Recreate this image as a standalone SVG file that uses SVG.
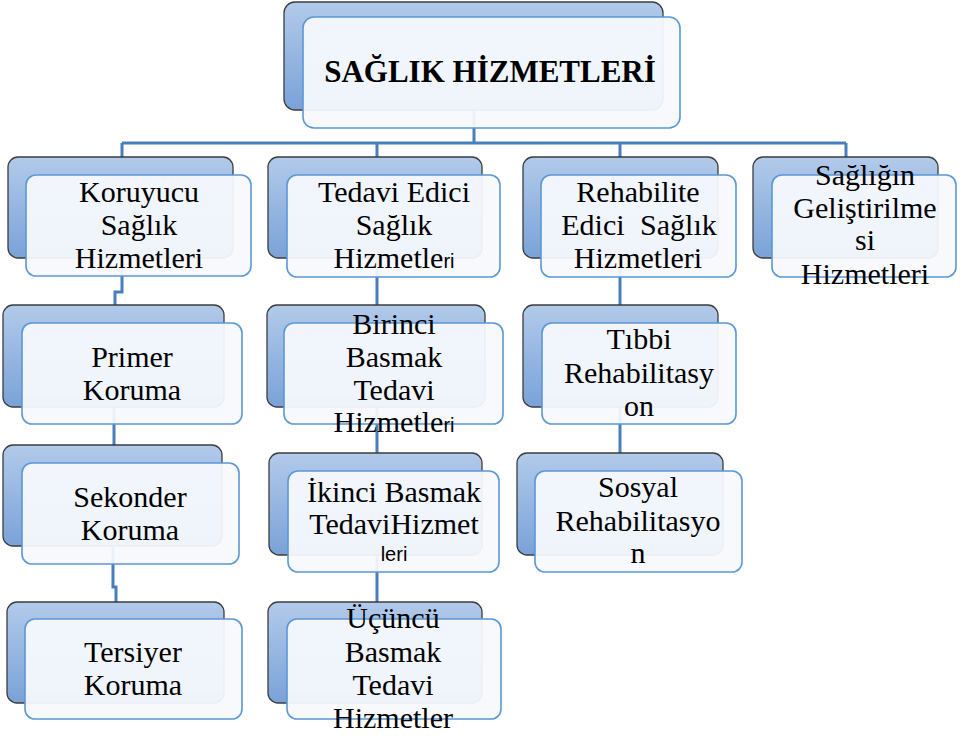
<svg xmlns="http://www.w3.org/2000/svg" width="971" height="738" viewBox="0 0 971 738">
<style>
.back{fill:url(#bg);stroke:#3d3d3d;stroke-width:1.3}
.front{fill:#f6f9fd;fill-opacity:0.94;stroke:#5a98d6;stroke-width:1.6}
.t{font-family:"Liberation Serif",serif;font-size:30px;fill:#000;text-anchor:middle}
.ttl{font-family:"Liberation Serif",serif;font-size:31px;font-weight:bold;fill:#000;text-anchor:middle}
.s{font-family:"Liberation Sans",sans-serif;font-size:20px}
.c{fill:none;stroke:#4a7fbd;stroke-width:3}
</style>
<defs>
<linearGradient id="bg" x1="0" y1="0" x2="0" y2="1">
<stop offset="0" stop-color="#b2caea"/>
<stop offset="1" stop-color="#7aa2d8"/>
</linearGradient>
</defs>
<rect width="971" height="738" fill="#fff"/>
<g id="connectors">
<path class="c" d="M474 110 V143 M122 143 H846 M122 143 V157 M377 143 V157 M620 143 V157 M846 143 V157"/>
<path class="c" d="M122 258 V292 H115 V305 M114 407 V445 M113 546 V587 H116 V602"/>
<path class="c" d="M377 258 V305 M377 407 V453 M377 555 V602"/>
<path class="c" d="M620 258 V305 M620 407 V453"/>
</g>
<g id="n-root">
<rect class="back" x="284" y="2" width="379" height="108" rx="11"/>
<rect class="front" x="303" y="17" width="377" height="111" rx="11"/>
<text class="ttl" x="490" y="82">SAĞLIK HİZMETLERİ</text>
</g>
<g id="n-koruyucu">
<rect class="back" x="8" y="157" width="225" height="101" rx="10"/>
<rect class="front" x="26" y="175" width="225" height="101" rx="10"/>
<text class="t" x="139" y="202">Koruyucu</text>
<text class="t" x="139" y="235">Sağlık</text>
<text class="t" x="139" y="268">Hizmetleri</text>
</g>
<g id="n-primer">
<rect class="back" x="3" y="305" width="221" height="102" rx="10"/>
<rect class="front" x="22" y="323" width="220" height="101" rx="10"/>
<text class="t" x="132" y="367">Primer</text>
<text class="t" x="132" y="400">Koruma</text>
</g>
<g id="n-sekonder">
<rect class="back" x="3" y="445" width="219" height="101" rx="10"/>
<rect class="front" x="22" y="463" width="217" height="101" rx="10"/>
<text class="t" x="130" y="507">Sekonder</text>
<text class="t" x="130" y="540">Koruma</text>
</g>
<g id="n-tersiyer">
<rect class="back" x="7" y="602" width="217" height="101" rx="10"/>
<rect class="front" x="25" y="619" width="217" height="100" rx="10"/>
<text class="t" x="133" y="662">Tersiyer</text>
<text class="t" x="133" y="695">Koruma</text>
</g>
<g id="n-tedavi">
<rect class="back" x="268" y="157" width="214" height="101" rx="10"/>
<rect class="front" x="287" y="175" width="213" height="102" rx="10"/>
<text class="t" x="394" y="202">Tedavi Edici</text>
<text class="t" x="394" y="235">Sağlık</text>
<text class="t" x="394" y="268">Hizmetle<tspan class="s">ri</tspan></text>
</g>
<g id="n-birinci">
<rect class="back" x="267" y="305" width="218" height="102" rx="10"/>
<rect class="front" x="284" y="323" width="219" height="101" rx="10"/>
<text class="t" x="394" y="334">Birinci</text>
<text class="t" x="394" y="367">Basmak</text>
<text class="t" x="394" y="400">Tedavi</text>
<text class="t" x="394" y="432">Hizmetle<tspan class="s">ri</tspan></text>
</g>
<g id="n-ikinci">
<rect class="back" x="269" y="453" width="213" height="102" rx="10"/>
<rect class="front" x="288" y="471" width="211" height="101" rx="10"/>
<text class="t" x="394" y="502">İkinci Basmak</text>
<text class="t" x="394" y="534">TedaviHizmet</text>
<text class="t s" x="394" y="561">leri</text>
</g>
<g id="n-ucuncu">
<rect class="back" x="268" y="602" width="214" height="101" rx="10"/>
<rect class="front" x="287" y="619" width="214" height="100" rx="10"/>
<text class="t" x="393" y="628">Üçüncü</text>
<text class="t" x="393" y="662">Basmak</text>
<text class="t" x="393" y="695">Tedavi</text>
<text class="t" x="393" y="728">Hizmetler</text>
</g>
<g id="n-rehabilite">
<rect class="back" x="523" y="157" width="195" height="101" rx="10"/>
<rect class="front" x="541" y="175" width="195" height="102" rx="10"/>
<text class="t" x="638" y="202">Rehabilite</text>
<text class="t" x="639" y="235" word-spacing="8">Edici Sağlık</text>
<text class="t" x="638" y="268">Hizmetleri</text>
</g>
<g id="n-tibbi">
<rect class="back" x="523" y="305" width="195" height="102" rx="10"/>
<rect class="front" x="542" y="323" width="194" height="101" rx="10"/>
<text class="t" x="639" y="349">Tıbbi</text>
<text class="t" x="639" y="383">Rehabilitasy</text>
<text class="t" x="639" y="416">on</text>
</g>
<g id="n-sosyal">
<rect class="back" x="517" y="453" width="206" height="102" rx="10"/>
<rect class="front" x="535" y="471" width="207" height="101" rx="10"/>
<text class="t" x="638" y="497">Sosyal</text>
<text class="t" x="638" y="531">Rehabilitasyo</text>
<text class="t" x="638" y="563">n</text>
</g>
<g id="n-gelistirilme">
<rect class="back" x="753" y="157" width="185" height="101" rx="10"/>
<rect class="front" x="772" y="175" width="184" height="102" rx="10"/>
<text class="t" x="865" y="185">Sağlığın</text>
<text class="t" x="865" y="218">Geliştirilme</text>
<text class="t" x="865" y="250">si</text>
<text class="t" x="865" y="284">Hizmetleri</text>
</g>
</svg>
